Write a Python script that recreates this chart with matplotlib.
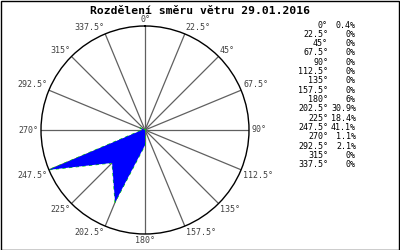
import matplotlib.pyplot as plt
import numpy as np

TITLE = "Rozdělení směru větru 29.01.2016"
directions = [0, 22.5, 45, 67.5, 90, 112.5, 135, 157.5,
              180, 202.5, 225, 247.5, 270, 292.5, 315, 337.5]
dirLabels = ["0°", "22.5°", "45°", "67.5°", "90°", "112.5°", "135°", "157.5°",
             "180°", "202.5°", "225°", "247.5°", "270°", "292.5°", "315°", "337.5°"]
shares = [0.4, 0, 0, 0, 0, 0, 0, 0, 6, 30.9, 18.4, 41.1, 1.1, 2.1, 0, 0]
shareLabels = ["0.4%", "0%", "0%", "0%", "0%", "0%", "0%", "0%",
               "6%", "30.9%", "18.4%", "41.1%", "1.1%", "2.1%", "0%", "0%"]

MONO = "DejaVu Sans Mono"

fig = plt.figure(figsize=(4, 2.5), dpi=100)
fig.patch.set_facecolor("white")

# black frame round the whole picture
fig.add_artist(plt.Rectangle((0.0015, 0.002), 0.997, 0.995, transform=fig.transFigure,
                             fill=False, edgecolor="black", linewidth=1))

fig.text(0.5, 0.958, TITLE, ha="center", va="center", family=MONO,
         fontsize=8.2, fontweight="bold")

ax = fig.add_axes([0.1025, 0.064, 0.52, 0.832], projection="polar")
ax.set_theta_zero_location("N")
ax.set_theta_direction(-1)
rmax = max(shares)
ax.set_ylim(0, rmax)
ax.set_yticks([])
ax.set_xticks([])
ax.grid(False)
ax.spines["polar"].set_color("black")
ax.spines["polar"].set_linewidth(1)

theta = np.deg2rad(directions)
for t in theta:
    ax.plot([t, t], [0, rmax], color="#606060", linewidth=0.9, zorder=1)

closedT = np.append(theta, theta[0])
closedR = np.append(shares, shares[0])
ax.plot(closedT, closedR, color="#00dd00", linewidth=0.8, linestyle=(0, (3, 3)), zorder=2)
ax.fill(closedT, closedR, color="#0000ff", linewidth=0, zorder=3)

# direction labels round the circle
for d, lab in zip(directions, dirLabels):
    s = np.sin(np.deg2rad(d))
    c = np.cos(np.deg2rad(d))
    if abs(s) < 0.1:
        ha = "center"
    elif s > 0:
        ha = "left"
    else:
        ha = "right"
    if abs(c) < 0.1:
        va = "center"
    elif c > 0:
        va = "bottom"
    else:
        va = "top"
    ax.text(np.deg2rad(d), rmax * 1.02, lab, ha=ha, va=va, family=MONO,
            fontsize=6, color="#404040", clip_on=False)

# table of shares on the right
for i, (lab, val) in enumerate(zip(dirLabels, shareLabels)):
    y = 1 - (25 + i * 9.33) / 250
    fig.text(328 / 400, y, lab, ha="right", va="center", family=MONO, fontsize=6)
    fig.text(356 / 400, y, val, ha="right", va="center", family=MONO, fontsize=6)

fig.savefig("out.png", dpi=100)
